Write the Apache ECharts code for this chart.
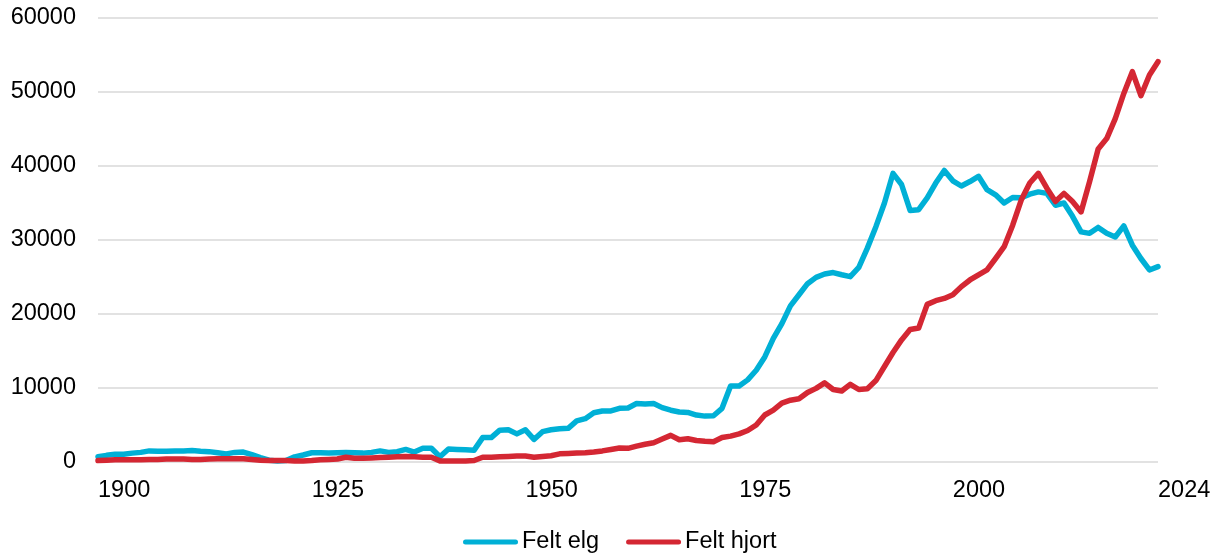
<!DOCTYPE html>
<html>
<head>
<meta charset="utf-8">
<script src="https://cdn.jsdelivr.net/npm/echarts@6/dist/echarts.min.js"></script>
<style>
  html, body { margin: 0; padding: 0; background: #fff; }
  #chart { width: 1220px; height: 556px; }
</style>
</head>
<body>
<div id="chart"></div>
<script>
// years 1900 - 2024
var years = [];
for (var y = 1900; y <= 2024; y++) years.push(String(y));

var tickYears = ['1900', '1925', '1950', '1975', '2000', '2024'];

// Felt elg (moose)
var feltElg = [
  700, 900, 1050, 1050, 1200, 1300, 1500, 1450, 1450, 1500,
  1500, 1550, 1450, 1400, 1250, 1100, 1300, 1350, 1000, 600,
  250, 150, 200, 700, 950, 1250, 1250, 1200, 1250, 1300,
  1250, 1200, 1300, 1500, 1300, 1400, 1700, 1350, 1850, 1850,
  700, 1750, 1700, 1650, 1600, 3300, 3300, 4300, 4350, 3800,
  4350, 3050, 4100, 4350, 4500, 4550, 5550, 5850, 6650, 6900,
  6900, 7250, 7300, 7900, 7850, 7900, 7350, 7000, 6750, 6700,
  6350, 6200, 6250, 7250, 10270, 10270, 11100, 12400, 14200, 16700,
  18700, 21100, 22600, 24100, 24950, 25400, 25600, 25300, 25050, 26300,
  28900, 31800, 35000, 39000, 37500, 34000, 34100, 35700, 37700, 39400,
  38000, 37300, 37900, 38600, 36800, 36100, 35000, 35750, 35700, 36200,
  36500, 36300, 34700, 35000, 33200, 31100, 30900, 31700, 30900, 30400,
  31900, 29300, 27500, 25950, 26400
];

// Felt hjort (red deer)
var feltHjort = [
  200, 250, 300, 300, 300, 300, 350, 350, 400, 400,
  400, 350, 350, 400, 450, 450, 450, 450, 350, 250,
  200, 200, 200, 150, 150, 200, 300, 350, 400, 650,
  500, 500, 550, 600, 650, 700, 750, 700, 650, 650,
  150, 150, 150, 150, 200, 650, 650, 700, 750, 800,
  800, 650, 750, 850, 1100, 1150, 1200, 1250, 1350, 1500,
  1700, 1900, 1850, 2150, 2400, 2600, 3100, 3600, 3000, 3150,
  2900, 2800, 2750, 3300, 3500, 3800, 4250, 5000, 6350, 7000,
  7950, 8350, 8550, 9400, 9950, 10700, 9800, 9600, 10500, 9800,
  9900, 11000, 12900, 14800, 16500, 17900, 18100, 21300, 21800, 22100,
  22600, 23700, 24600, 25300, 25950, 27500, 29100, 32000, 35400, 37700,
  39000, 37000, 35200, 36300, 35200, 33800, 37900, 42300, 43700, 46400,
  49800, 52750, 49500, 52300, 54100
];

var font = 'Liberation Sans, Arial, sans-serif';
var capsule = 'path://M2.5,0 H52.5 A2.5,2.5 0 0 1 52.5,5 H2.5 A2.5,2.5 0 0 1 2.5,0 Z';

var chart = echarts.init(document.getElementById('chart'), null, { renderer: 'canvas' });

var option = {
    animation: false,
    backgroundColor: '#fff',
    grid: { left: 98, right: 62, top: 18, bottom: 94, containLabel: false },
    legend: {
        left: 463,
        top: 530,
        padding: 0,
        itemWidth: 55,
        itemHeight: 6,
        itemGap: 27,
        textStyle: { fontFamily: font, fontSize: 23.5, color: '#000', padding: [0, 0, 0, -1] },
        data: [
            { name: 'Felt elg', icon: capsule },
            { name: 'Felt hjort', icon: capsule }
        ]
    },
    xAxis: {
        type: 'category',
        data: years,
        boundaryGap: false,
        axisLine: { show: false },
        axisTick: { show: false },
        axisLabel: {
            interval: function (idx, val) { return tickYears.indexOf(val) >= 0; },
            align: 'left',
            margin: 17,
            fontFamily: font,
            fontSize: 23.5,
            color: '#000'
        }
    },
    yAxis: {
        type: 'value',
        min: 0,
        max: 60000,
        interval: 10000,
        axisLine: { show: false },
        axisTick: { show: false },
        splitLine: { lineStyle: { color: '#d9d9d9', width: 1.5 } },
        axisLabel: {
            margin: 22,
            fontFamily: font,
            fontSize: 23.5,
            color: '#000',
            formatter: function (v) { return String(v); }
        }
    },
    series: [
        {
            name: 'Felt elg',
            type: 'line',
            data: feltElg,
            symbol: 'none',
            color: '#00b0d6',
            lineStyle: { width: 5.5, color: '#00b0d6', cap: 'round', join: 'round' }
        },
        {
            name: 'Felt hjort',
            type: 'line',
            data: feltHjort,
            symbol: 'none',
            color: '#d42733',
            lineStyle: { width: 5.5, color: '#d42733', cap: 'round', join: 'round' }
        }
    ]
};

chart.setOption(option);
</script>
</body>
</html>
